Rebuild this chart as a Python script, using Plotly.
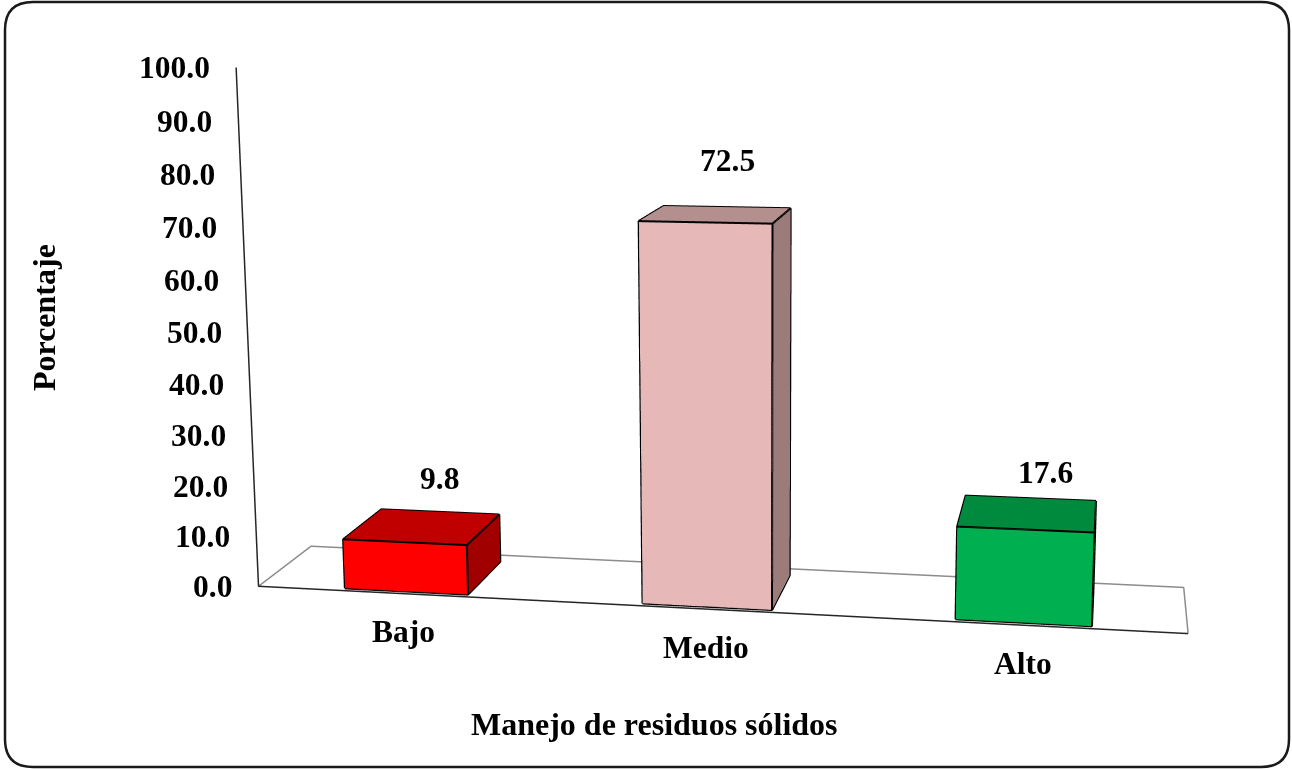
import plotly.graph_objects as go

categories = ["Bajo", "Medio", "Alto"]
values = [9.8, 72.5, 17.6]
value_labels = ["9.8", "72.5", "17.6"]
tick_values = [0, 10, 20, 30, 40, 50, 60, 70, 80, 90, 100]
front_colors = ["#FF0000", "#E6B8B7", "#00B050"]
top_colors = ["#C00000", "#B38F8E", "#008A3E"]
side_colors = ["#A00000", "#9C7C7B", "#007A37"]
value_shifts = [(19, 50), (12, 55), (18, 43)]

font_name = "Liberation Serif"
font_size = 31.5
title_size = 32
bar_half = 0.21
depth_front = 0.05
depth_back = 0.84

# the plotly 3d camera has a fixed field of view, so the page is made taller
# than the window and moved up to get the long lens of the original
page_w, page_h = 1400, 1845
page_top = 574


def px(x):
    return x / page_w


def py(y):
    return 1 - (y + page_top) / page_h


def bar_traces(i, value):
    mid = i + 0.5
    x0, x1 = mid - bar_half, mid + bar_half
    y0, y1 = depth_front, depth_back
    xs = [x0, x1, x1, x0, x0, x1, x1, x0]
    ys = [y0, y0, y1, y1, y0, y0, y1, y1]
    zs = [0, 0, 0, 0, value, value, value, value]
    # front, right side, top
    ii = [0, 0, 1, 1, 4, 4]
    jj = [1, 5, 2, 6, 5, 6]
    kk = [5, 4, 6, 5, 6, 7]
    colors = [front_colors[i]] * 2 + [side_colors[i]] * 2 + [top_colors[i]] * 2
    mesh = go.Mesh3d(x=xs, y=ys, z=zs, i=ii, j=jj, k=kk, facecolor=colors, flatshading=True,
                     lighting=dict(ambient=1, diffuse=0, specular=0, roughness=1, fresnel=0),
                     hoverinfo="skip", showscale=False)
    ex, ey, ez = [], [], []
    for path in ([0, 1, 5, 4, 0], [1, 2, 6, 5], [4, 7, 6]):
        ex += [xs[p] for p in path] + [None]
        ey += [ys[p] for p in path] + [None]
        ez += [zs[p] for p in path] + [None]
    edges = go.Scatter3d(x=ex, y=ey, z=ez, mode="lines", line=dict(color="black", width=4),
                         hoverinfo="skip", showlegend=False)
    return [mesh, edges]


fig = go.Figure()

# floor
fig.add_trace(go.Scatter3d(x=[0, 0, 3, 3], y=[0, 1, 1, 0], z=[0, 0, 0, 0], mode="lines",
                           line=dict(color="#8C8C8C", width=3), hoverinfo="skip", showlegend=False))
# front edge and value axis
fig.add_trace(go.Scatter3d(x=[3, 0, 0], y=[0, 0, 0], z=[0, 0, 100], mode="lines",
                           line=dict(color="#262626", width=3), hoverinfo="skip", showlegend=False))

for i, v in enumerate(values):
    for tr in bar_traces(i, v):
        fig.add_trace(tr)

label_font = dict(family=font_name, size=font_size, color="black")
title_font = dict(family=font_name, size=title_size, color="black")
notes = []
for t in tick_values:
    notes.append(dict(x=0, y=0, z=t, text=f"<b>{t:.1f}</b>", xanchor="right", yanchor="middle", xshift=-24,
                      showarrow=False, font=label_font))
for i, c in enumerate(categories):
    notes.append(dict(x=i + 0.5, y=0, z=0, text=f"<b>{c}</b>", xanchor="center", yanchor="middle",
                      yshift=-38, showarrow=False, font=label_font))
for i, v in enumerate(values):
    notes.append(dict(x=i + 0.5, y=0.4, z=v, text=f"<b>{value_labels[i]}</b>", xanchor="center",
                      yanchor="middle", xshift=value_shifts[i][0], yshift=value_shifts[i][1],
                      showarrow=False, font=label_font))

hidden = dict(visible=False, showgrid=False, zeroline=False, showspikes=False)
L, R, T, B, r = px(5), px(1289), py(2), py(767), 28
rx, ry = r / page_w, r / page_h
frame = (f"M {L + rx},{T} L {R - rx},{T} Q {R},{T} {R},{T - ry} L {R},{B + ry} Q {R},{B} {R - rx},{B} "
         f"L {L + rx},{B} Q {L},{B} {L},{B + ry} L {L},{T - ry} Q {L},{T} {L + rx},{T} Z")

fig.update_layout(
    width=page_w, height=page_h,
    margin=dict(l=0, r=0, t=0, b=0),
    paper_bgcolor="white",
    showlegend=False,
    scene=dict(
        domain=dict(x=[0, 1], y=[0, 1]),
        dragmode="orbit",
        xaxis=dict(range=[0, 3], **hidden),
        yaxis=dict(range=[0, 1], **hidden),
        zaxis=dict(range=[0, 100], **hidden),
        aspectmode="manual",
        aspectratio=dict(x=2.0, y=0.329, z=1.135),
        camera=dict(eye=dict(x=0.824, y=-4.626, z=0.846), center=dict(x=-0.06, y=0.108, z=-0.058),
                    up=dict(x=0.005, y=0, z=1), projection=dict(type="perspective")),
        annotations=notes,
    ),
    annotations=[
        dict(x=px(654), y=py(724), xref="paper", yref="paper", xanchor="center", yanchor="middle",
             text="<b>Manejo de residuos sólidos</b>", showarrow=False, font=title_font),
        dict(x=px(44), y=py(318), xref="paper", yref="paper", xanchor="center", yanchor="middle",
             text="<b>Porcentaje</b>", textangle=-90, showarrow=False, font=title_font),
    ],
    shapes=[dict(type="path", xref="paper", yref="paper", line=dict(color="#1A1A1A", width=2.5), path=frame)],
)

page_script = f"""
document.documentElement.style.overflow = 'hidden';
document.body.style.margin = '0';
document.body.style.overflow = 'hidden';
var gd = document.getElementById('{{plot_id}}');
gd.style.position = 'absolute';
gd.style.left = '0';
gd.style.top = '-{page_top}px';
"""
fig.write_html("out.html", post_script=page_script)
